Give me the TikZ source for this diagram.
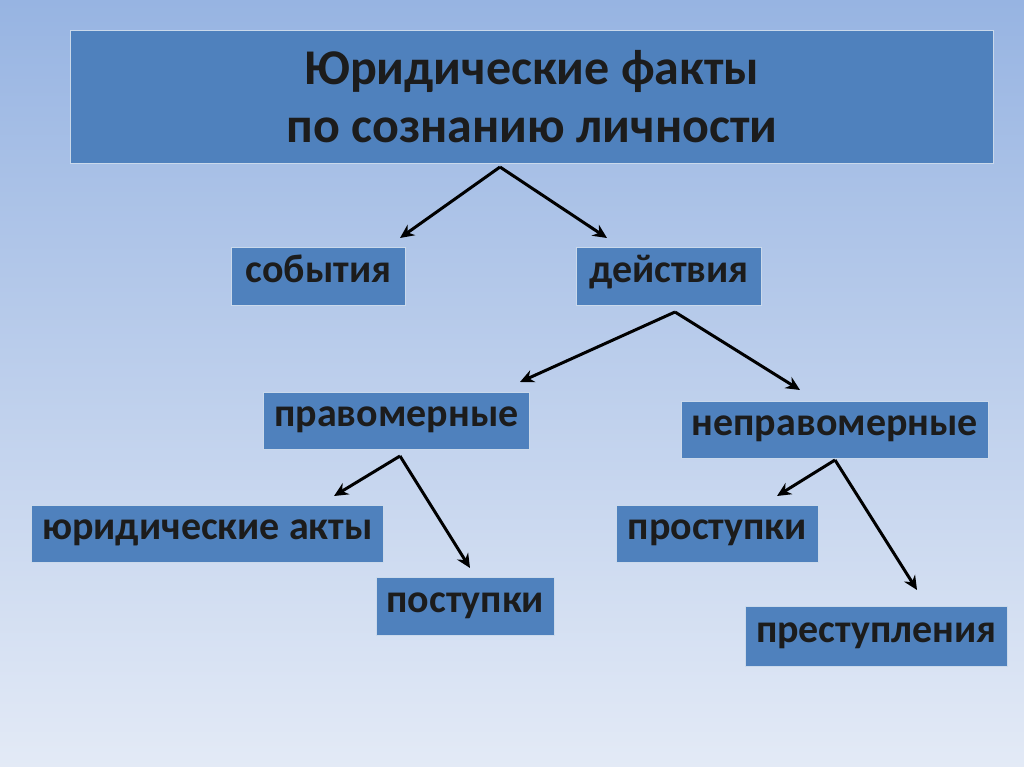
\documentclass[tikz,border=0pt]{standalone}
\usepackage{fontspec}
\setmainfont{Carlito}
\usetikzlibrary{arrows.meta}
\definecolor{boxblue}{HTML}{4F81BD}
\definecolor{bgtop}{HTML}{97B4E2}
\definecolor{bgbot}{HTML}{E3EAF6}
\definecolor{txt}{HTML}{1C1C1C}
\tikzset{
 box/.style={fill=boxblue,draw=white!70!boxblue,line width=0.8pt,anchor=north west,inner sep=0pt,text=txt,font=\fontsize{40}{44}\selectfont\bfseries,text height=20pt,text depth=8pt},
 arr/.style={line width=3pt,-{Stealth[length=14pt,width=13pt]}},
}
\newcommand{\bx}[6]{\node[box,minimum width=#4-#2,minimum height=#5-#3] (#1) at (#2,-#3) {#6};}
\begin{document}
\begin{tikzpicture}[x=1pt,y=1pt]
\shade[top color=bgtop,bottom color=bgbot] (0,0) rectangle (1024,-767);
\useasboundingbox (0,0) rectangle (1024,-767);
\node[box,minimum width=923,minimum height=133,align=center,text height=,text depth=,font=\fontsize{50}{58}\selectfont\bfseries] (t) at (70,-30) {Юридические факты\\по сознанию личности};
\bx{a}{231}{247}{405}{305}{события}
\bx{b}{576}{247}{761}{305}{действия}
\bx{c}{263}{392}{529}{449}{правомерные}
\bx{d}{681}{401}{988}{458}{неправомерные}
\bx{e}{31}{505}{383}{562}{юридические акты}
\bx{f}{376}{577}{554}{635}{поступки}
\bx{g}{616}{505}{818}{562}{проступки}
\bx{h}{745}{606}{1007}{666}{преступления}
\coordinate (s1) at (500,-167);
\coordinate (s2) at (675,-312);
\coordinate (s3) at (400,-456);
\coordinate (s4) at (835,-460);
\coordinate (e1) at (400,-238); \coordinate (e2) at (607,-238);
\coordinate (e3) at (520,-382); \coordinate (e4) at (800,-390);
\coordinate (e5) at (334,-496); \coordinate (e6) at (470,-568);
\coordinate (e7) at (777,-496); \coordinate (e8) at (917,-590);
\draw[arr] (s1) -- (e1); \draw[arr] (s1) -- (e2);
\draw[arr] (s2) -- (e3); \draw[arr] (s2) -- (e4);
\draw[arr] (s3) -- (e5); \draw[arr] (s3) -- (e6);
\draw[arr] (s4) -- (e7); \draw[arr] (s4) -- (e8);
\end{tikzpicture}
\end{document}
